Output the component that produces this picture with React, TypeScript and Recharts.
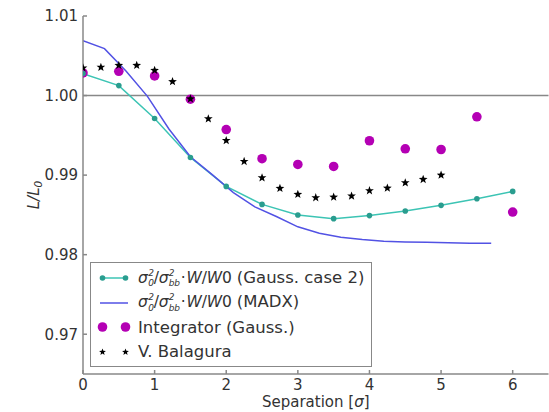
import React from 'react';
import { ComposedChart, Line, Scatter, XAxis, YAxis, ReferenceLine, Legend } from 'recharts';

const gaussSep = [0, 0.5, 1, 1.5, 2, 2.5, 3, 3.5, 4, 4.5, 5, 5.5, 6];
const gaussCase2 = [1.00276, 1.00125, 0.99711, 0.99222, 0.98858, 0.98632, 0.98498, 0.98453, 0.98491, 0.98549, 0.9862, 0.98703, 0.98795];

const madxSep = [0, 0.3, 0.6, 0.9, 1.2, 1.5, 1.8, 2.1, 2.4, 2.7, 3.0, 3.3, 3.6, 3.9, 4.2, 4.5, 4.8, 5.1, 5.4, 5.7];
const madxVals = [1.0069, 1.0059, 1.0031, 0.9999, 0.9958, 0.9923, 0.9901, 0.9878, 0.986, 0.9848, 0.9835, 0.9827, 0.9822, 0.9819, 0.9817, 0.9816, 0.98155, 0.9815, 0.98145, 0.98143];

const integratorSep = [0, 0.5, 1, 1.5, 2, 2.5, 3, 3.5, 4, 4.5, 5, 5.5, 6];
const integratorVals = [1.00285, 1.00305, 1.00247, 0.99954, 0.99573, 0.99206, 0.99134, 0.99109, 0.99432, 0.99331, 0.99322, 0.99733, 0.98536];

const balaguraSep = [0, 0.25, 0.5, 0.75, 1, 1.25, 1.5, 1.75, 2, 2.25, 2.5, 2.75, 3, 3.25, 3.5, 3.75, 4, 4.25, 4.5, 4.75, 5];
const balaguraVals = [1.00347, 1.00356, 1.0038, 1.0038, 1.00317, 1.00176, 0.99959, 0.99708, 0.99435, 0.99172, 0.98967, 0.98833, 0.98758, 0.98716, 0.98724, 0.98737, 0.98804, 0.98837, 0.98904, 0.98946, 0.99];

const xTicks = [0, 1, 2, 3, 4, 5, 6];
const yTicks = [0.97, 0.98, 0.99, 1.0, 1.01];

const zip = (xs: number[], ys: number[]) => xs.map((x, i) => ({ x, y: ys[i] }));
const gaussData = zip(gaussSep, gaussCase2);
const madxData = zip(madxSep, madxVals);
const integratorData = zip(integratorSep, integratorVals);
const balaguraData = zip(balaguraSep, balaguraVals);

const TEAL_LINE = '#3cc4b4';
const TEAL_DOT = '#2a9d8f';
const BLUE = '#5252e4';
const MAGENTA = '#b400b4';
const FRAME = '#888888';
const FONT = '"DejaVu Sans", sans-serif';
const TXT = '#333333';

const starPoints = (cx: number, cy: number, ro: number, ri: number) => {
  const pts: string[] = [];
  for (let i = 0; i < 10; i++) {
    const r = i % 2 === 0 ? ro : ri;
    const a = -Math.PI / 2 + (i * Math.PI) / 5;
    pts.push(`${cx + r * Math.cos(a)},${cy + r * Math.sin(a)}`);
  }
  return pts.join(' ');
};

const StarShape = (props: any) => {
  const { cx, cy } = props;
  if (cx == null || cy == null) return null;
  return <polygon points={starPoints(cx, cy, 4.6, 1.9)} fill="#000" />;
};

const CircleShape = (props: any) => {
  const { cx, cy } = props;
  if (cx == null || cy == null) return null;
  return <circle cx={cx} cy={cy} r={4.8} fill={MAGENTA} />;
};

const Stack = ({ sup, sub }: { sup: string; sub: string }) => (
  <span style={{ display: 'inline-flex', flexDirection: 'column', fontSize: '0.58em', lineHeight: '1.18em', verticalAlign: 'middle', fontStyle: 'italic', marginLeft: 0.5 }}>
    <span>{sup}</span>
    <span>{sub}</span>
  </span>
);

const MathPrefix = () => (
  <span style={{ fontSize: '0.94em', letterSpacing: '-0.2px' }}>
    <i>σ</i>
    <Stack sup="2" sub="0" />/<i>σ</i>
    <Stack sup="2" sub="bb" />
    <span style={{ margin: '0 1px' }}>·</span>
    <i>W</i>/<i>W</i>0
  </span>
);

const LegendContent = () => {
  const rowStyle: React.CSSProperties = { display: 'flex', alignItems: 'center', height: 24.5 };
  const markerBox: React.CSSProperties = { width: 41, height: 20, marginRight: 2, flexShrink: 0 };
  return (
    <div style={{ border: `1.5px solid ${FRAME}`, background: '#fff', padding: '3px 0 3px 4px', fontFamily: FONT, fontSize: 16.5, color: TXT, boxSizing: 'border-box', width: 282, height: 105 }}>
      <div style={rowStyle}>
        <svg style={markerBox}>
          <line x1={6} y1={10} x2={31} y2={10} stroke={TEAL_LINE} strokeWidth={1.5} />
          <circle cx={7.5} cy={10} r={2.8} fill={TEAL_DOT} />
          <circle cx={30.5} cy={10} r={2.8} fill={TEAL_DOT} />
        </svg>
        <span style={{ whiteSpace: 'nowrap' }}><MathPrefix /> (Gauss. case 2)</span>
      </div>
      <div style={rowStyle}>
        <svg style={markerBox}>
          <line x1={5} y1={10} x2={33} y2={10} stroke={BLUE} strokeWidth={1.5} />
        </svg>
        <span style={{ whiteSpace: 'nowrap' }}><MathPrefix /> (MADX)</span>
      </div>
      <div style={rowStyle}>
        <svg style={markerBox}>
          <circle cx={7.5} cy={10} r={4.8} fill={MAGENTA} />
          <circle cx={30.5} cy={10} r={4.8} fill={MAGENTA} />
        </svg>
        <span>Integrator (Gauss.)</span>
      </div>
      <div style={rowStyle}>
        <svg style={markerBox}>
          <polygon points={starPoints(7.5, 10, 3.6, 1.5)} fill="#000" />
          <polygon points={starPoints(30.5, 10, 3.6, 1.5)} fill="#000" />
        </svg>
        <span>V. Balagura</span>
      </div>
    </div>
  );
};

const YLabel = (props: any) => {
  const vb = props.viewBox || { x: 0, y: 0, width: 0, height: 0 };
  const cx = vb.x + 39;
  const cy = vb.y + vb.height / 2;
  return (
    <text x={cx} y={cy} transform={`rotate(-90, ${cx}, ${cy})`} textAnchor="middle" fontFamily={FONT} fontSize={15} fill={TXT} fontStyle="italic">
      L/L<tspan fontSize={10.5} dy={3}>0</tspan>
    </text>
  );
};

const XLabel = (props: any) => {
  const vb = props.viewBox || { x: 0, y: 0, width: 0, height: 0 };
  return (
    <text x={vb.x + vb.width / 2} y={vb.y + 33} textAnchor="middle" fontFamily={FONT} fontSize={15} fill={TXT}>
      Separation [<tspan fontStyle="italic">σ</tspan>]
    </text>
  );
};

export default function App() {
  const tickStyle = { fontFamily: FONT, fontSize: 15, fill: TXT };
  return (
    <div style={{ position: 'absolute', left: 0, top: 0, width: 549, height: 412, background: '#fff' }}>
      <ComposedChart width={549} height={412} margin={{ top: 16, right: 0.5, bottom: 0, left: 0 }}>
        <XAxis
          xAxisId="b"
          type="number"
          dataKey="x"
          domain={[0, 6.5]}
          ticks={xTicks}
          allowDataOverflow
          height={38}
          stroke={FRAME}
          strokeWidth={1.5}
          tickSize={-4}
          tickMargin={9}
          tick={tickStyle}
          label={<XLabel />}
        />
        <XAxis
          xAxisId="t"
          orientation="top"
          type="number"
          dataKey="x"
          domain={[0, 6.5]}
          ticks={xTicks}
          allowDataOverflow
          height={0}
          stroke={FRAME}
          strokeWidth={1.5}
          tickSize={-4}
          tick={false}
        />
        <YAxis
          yAxisId="l"
          type="number"
          domain={[0.965, 1.01]}
          ticks={yTicks}
          allowDataOverflow
          width={83}
          stroke={FRAME}
          strokeWidth={1.5}
          tickSize={-4}
          tickMargin={9}
          tick={tickStyle}
          tickFormatter={(v: number) => v.toFixed(2)}
          label={<YLabel />}
        />
        <YAxis
          yAxisId="r"
          orientation="right"
          type="number"
          domain={[0.965, 1.01]}
          ticks={yTicks}
          allowDataOverflow
          width={0}
          stroke={FRAME}
          strokeWidth={1.5}
          tickSize={-4}
          tick={false}
        />
        <ReferenceLine xAxisId="b" yAxisId="l" y={1.0} stroke={FRAME} strokeWidth={1.5} />
        <Line
          xAxisId="b"
          yAxisId="l"
          data={gaussData}
          dataKey="y"
          type="linear"
          stroke={TEAL_LINE}
          strokeWidth={1.5}
          dot={{ r: 2.8, fill: TEAL_DOT, stroke: 'none' }}
          activeDot={false}
          isAnimationActive={false}
        />
        <Line
          xAxisId="b"
          yAxisId="l"
          data={madxData}
          dataKey="y"
          type="linear"
          stroke={BLUE}
          strokeWidth={1.5}
          dot={false}
          activeDot={false}
          isAnimationActive={false}
        />
        <Scatter xAxisId="b" yAxisId="l" data={integratorData} dataKey="y" shape={<CircleShape />} isAnimationActive={false} />
        <Scatter xAxisId="b" yAxisId="l" data={balaguraData} dataKey="y" shape={<StarShape />} isAnimationActive={false} />
        <Legend
          layout="vertical"
          align="center"
          verticalAlign="middle"
          content={<LegendContent />}
          wrapperStyle={{ left: 90, top: 262, width: 282, height: 105 }}
        />
      </ComposedChart>
    </div>
  );
}
